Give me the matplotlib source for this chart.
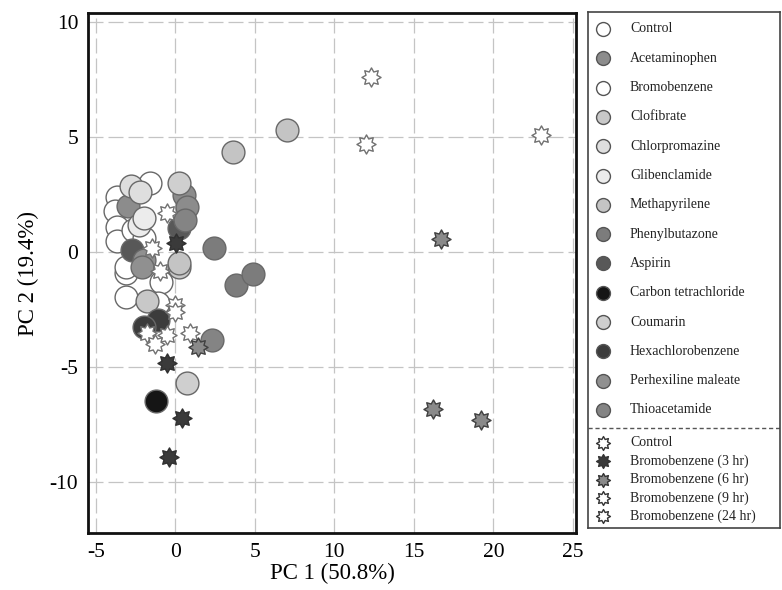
import numpy as np
import matplotlib
matplotlib.use("Agg")
import matplotlib.pyplot as plt
from matplotlib.path import Path

plt.rcParams['font.family'] = ['Liberation Serif', 'DejaVu Serif']
plt.rcParams['axes.unicode_minus'] = False

# ---------------- data (PC1, PC2 scores) ----------------
control_pc1 = [-3.7, -3.8, -3.7, -3.65, -3.1, -3.1, -2.7]
control_pc2 = [2.4, 1.8, 1.1, 0.5, -0.9, -1.95, 0.95]
acetaminophen_pc1 = [0.55, 0.7, -3.0]
acetaminophen_pc2 = [2.5, 1.95, 2.0]
bromobenzene_pc1 = [-1.6, -1.95, -0.9, -1.1, -3.1]
bromobenzene_pc2 = [3.0, 0.6, -1.3, -2.2, -0.65]
clofibrate_pc1 = [-1.8, 0.25]
clofibrate_pc2 = [-2.1, -0.65]
chlorpromazine_pc1 = [-2.8, -2.2]
chlorpromazine_pc2 = [2.9, 2.6]
glibenclamide_pc1 = [-2.3, -1.95]
glibenclamide_pc2 = [1.2, 1.5]
methapyrilene_pc1 = [7.0, 3.6, 0.25]
methapyrilene_pc2 = [5.3, 4.35, -0.45]
phenylbutazone_pc1 = [2.45, 3.8, 4.9]
phenylbutazone_pc2 = [0.2, -1.4, -0.95]
aspirin_pc1 = [0.25, -2.75]
aspirin_pc2 = [1.05, 0.1]
carbon_tet_pc1 = [-1.25]
carbon_tet_pc2 = [-6.45]
coumarin_pc1 = [0.7, 0.25]
coumarin_pc2 = [-5.7, 3.0]
hexachlorobenzene_pc1 = [-1.1, -1.95]
hexachlorobenzene_pc2 = [-2.95, -3.25]
perhexiline_pc1 = [-1.95, -2.1]
perhexiline_pc2 = [-0.35, -0.65]
thioacetamide_pc1 = [2.3, 0.6]
thioacetamide_pc2 = [-3.8, 1.4]

star_control_pc1 = [-0.55, -1.45, -1.0, -0.05, -1.8, -0.55, 0.9, -1.3, 0.0]
star_control_pc2 = [1.7, 0.2, -0.8, -2.3, -3.5, -3.6, -3.5, -4.0, -2.6]
bromo_3hr_pc1 = [0.05, -0.55, 0.4, -0.4]
bromo_3hr_pc2 = [0.4, -4.8, -7.2, -8.9]
bromo_6hr_pc1 = [1.4, 16.7, 16.2, 19.2]
bromo_6hr_pc2 = [-4.1, 0.57, -6.8, -7.3]
bromo_9hr_pc1 = [12.0, 12.3]
bromo_9hr_pc2 = [4.7, 7.6]
bromo_24hr_pc1 = [23.0]
bromo_24hr_pc2 = [5.1]

circle_labels = ['Control', 'Acetaminophen', 'Bromobenzene', 'Clofibrate',
                 'Chlorpromazine', 'Glibenclamide', 'Methapyrilene',
                 'Phenylbutazone', 'Aspirin', 'Carbon tetrachloride',
                 'Coumarin', 'Hexachlorobenzene', 'Perhexiline maleate',
                 'Thioacetamide']
circle_colors = ['#ffffff', '#8c8c8c', '#ffffff', '#c8c8c8', '#dedede',
                 '#ececec', '#c4c4c4', '#7c7c7c', '#585858', '#151515',
                 '#cfcfcf', '#3c3c3c', '#909090', '#848484']
circle_x = [control_pc1, acetaminophen_pc1, bromobenzene_pc1, clofibrate_pc1,
            chlorpromazine_pc1, glibenclamide_pc1, methapyrilene_pc1,
            phenylbutazone_pc1, aspirin_pc1, carbon_tet_pc1, coumarin_pc1,
            hexachlorobenzene_pc1, perhexiline_pc1, thioacetamide_pc1]
circle_y = [control_pc2, acetaminophen_pc2, bromobenzene_pc2, clofibrate_pc2,
            chlorpromazine_pc2, glibenclamide_pc2, methapyrilene_pc2,
            phenylbutazone_pc2, aspirin_pc2, carbon_tet_pc2, coumarin_pc2,
            hexachlorobenzene_pc2, perhexiline_pc2, thioacetamide_pc2]

star_labels = ['Control', 'Bromobenzene (3 hr)', 'Bromobenzene (6 hr)',
               'Bromobenzene (9 hr)', 'Bromobenzene (24 hr)']
star_colors = ['#ffffff', '#3a3a3a', '#8a8a8a', '#ffffff', '#ffffff']
star_edges = ['#707070', '#303030', '#404040', '#707070', '#707070']
star_x = [star_control_pc1, bromo_3hr_pc1, bromo_6hr_pc1, bromo_9hr_pc1, bromo_24hr_pc1]
star_y = [star_control_pc2, bromo_3hr_pc2, bromo_6hr_pc2, bromo_9hr_pc2, bromo_24hr_pc2]

x_ticks = [-5, 0, 5, 10, 15, 20, 25]
y_ticks = [-10, -5, 0, 5, 10]

# ---------------- marker shape ----------------
n_pts = 8
ang = np.linspace(0, 2 * np.pi, 2 * n_pts, endpoint=False) + np.pi / 2
rad = np.where(np.arange(2 * n_pts) % 2 == 0, 1.0, 0.62)
verts = np.column_stack([rad * np.cos(ang), rad * np.sin(ang)])
verts = np.vstack([verts, verts[:1]])
codes = [Path.MOVETO] + [Path.LINETO] * (2 * n_pts - 1) + [Path.CLOSEPOLY]
star_marker = Path(verts, codes)

# ---------------- figure ----------------
fig = plt.figure(figsize=(7.82, 5.90), dpi=100)
W, H = 782, 590
ax = fig.add_axes([88 / W, (H - 533) / H, (576 - 88) / W, (533 - 13) / H])

for xs, ys, c in zip(circle_x, circle_y, circle_colors):
    ax.scatter(xs, ys, s=270, marker='o', facecolor=c, edgecolor='#686868',
               linewidth=1.0, zorder=3)
for xs, ys, c, ec in zip(star_x, star_y, star_colors, star_edges):
    ax.scatter(xs, ys, s=190, marker=star_marker, facecolor=c, edgecolor=ec,
               linewidth=1.0, zorder=4)

ax.set_xlim(-5.5, 25.2)
ax.set_ylim(-12.2, 10.4)
ax.set_xticks(x_ticks)
ax.set_yticks(y_ticks)
ax.tick_params(length=0, labelsize=15.5, pad=7)
ax.grid(True, color='#c4c4c4', linestyle=(0, (12, 4)), linewidth=0.9, zorder=0)
for sp in ax.spines.values():
    sp.set_linewidth(2.0)
    sp.set_color('#111111')
ax.set_xlabel('PC 1 (50.8%)', fontsize=16.5, labelpad=1)
ax.set_ylabel('PC 2 (19.4%)', fontsize=16.5, labelpad=8)

# ---------------- legend (manual box) ----------------
lx0, lx1, ly0, ly1 = 588, 780, 12, 528
lax = fig.add_axes([lx0 / W, (H - ly1) / H, (lx1 - lx0) / W, (ly1 - ly0) / H])
lax.set_xlim(lx0, lx1)
lax.set_ylim(ly1, ly0)
lax.set_xticks([])
lax.set_yticks([])
for sp in lax.spines.values():
    sp.set_linewidth(1.2)
    sp.set_color('#444444')

mx, tx = 603, 630
for i, (lab, c) in enumerate(zip(circle_labels, circle_colors)):
    yy = 29 + i * 29.3
    lax.plot([mx], [yy], marker='o', markersize=10, markerfacecolor=c,
             markeredgecolor='#555555', markeredgewidth=1.0, linestyle='none')
    lax.text(tx, yy, lab, fontsize=10, va='center', ha='left', color='#222222')

lax.plot([lx0, lx1], [428, 428], linestyle=(0, (3, 2)), color='#555555', linewidth=1.0)

for i, (lab, c, ec) in enumerate(zip(star_labels, star_colors, star_edges)):
    yy = 443 + i * 18.3
    lax.plot([mx], [yy], marker=star_marker, markersize=10, markerfacecolor=c,
             markeredgecolor='#333333', markeredgewidth=1.0, linestyle='none')
    lax.text(tx, yy, lab, fontsize=10, va='center', ha='left', color='#222222')

fig.savefig('out.png', dpi=100)
